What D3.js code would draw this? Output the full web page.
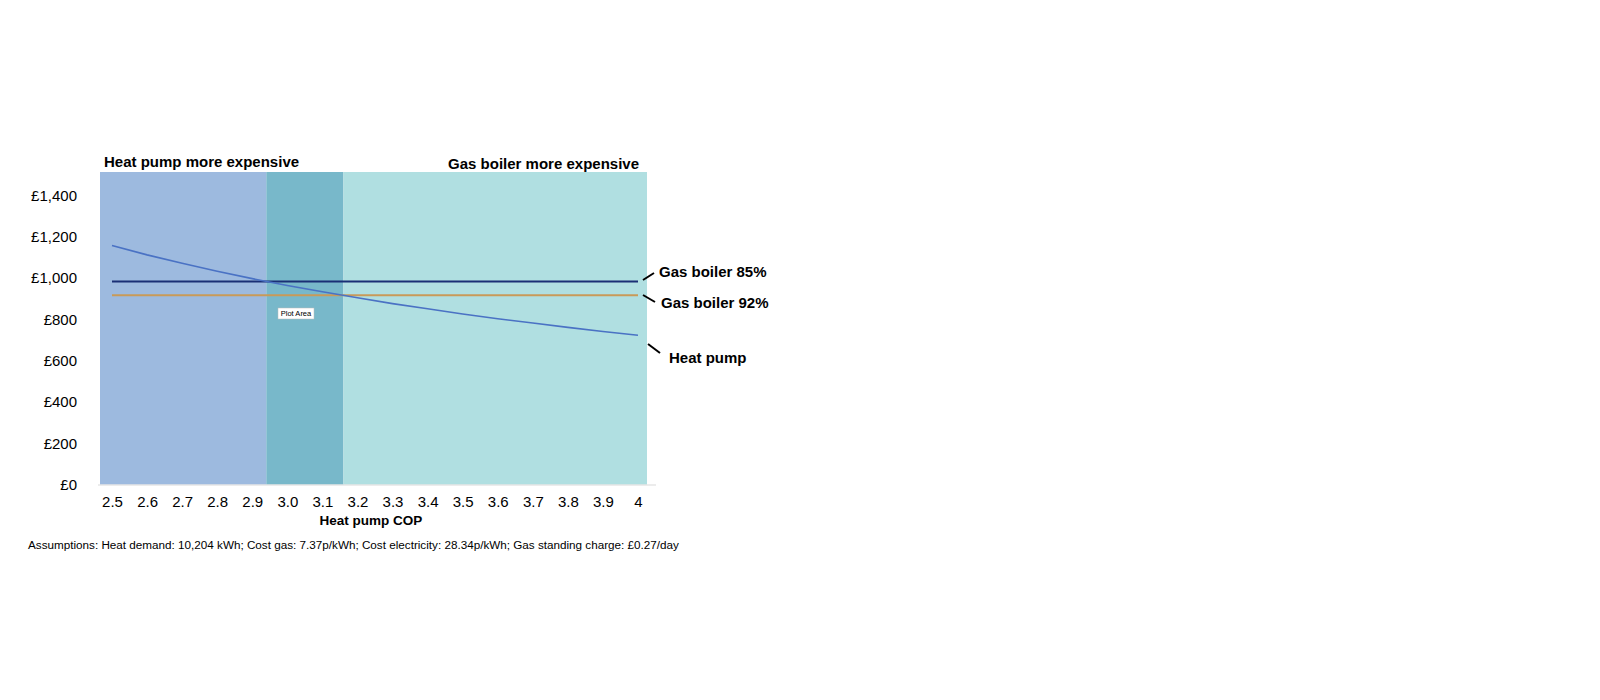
<!DOCTYPE html>
<html>
<head>
    <title>Heat pump vs gas boiler</title>
    <script src="https://d3js.org/d3.v7.min.js"></script>
    <style type="text/css">
        body { margin: 0; background: #fff; }
        text { font-family: "Liberation Sans", Arial, sans-serif; fill: #000; }
        .tick text { font-size: 15px; }
        .bold { font-weight: bold; }
    </style>
</head>
<body>
<script>
    // heat pump COP categories
    var cop = [2.5, 2.6, 2.7, 2.8, 2.9, 3.0, 3.1, 3.2, 3.3, 3.4, 3.5, 3.6, 3.7, 3.8, 3.9, 4.0];
    var copLabels = ["2.5", "2.6", "2.7", "2.8", "2.9", "3.0", "3.1", "3.2", "3.3", "3.4", "3.5", "3.6", "3.7", "3.8", "3.9", "4"];
    // annual cost, £
    var heatPump = [1157, 1112, 1071, 1033, 997, 964, 933, 904, 876, 851, 826, 803, 782, 761, 741, 723];
    var gas85 = [983, 983, 983, 983, 983, 983, 983, 983, 983, 983, 983, 983, 983, 983, 983, 983];
    var gas92 = [916, 916, 916, 916, 916, 916, 916, 916, 916, 916, 916, 916, 916, 916, 916, 916];
    // COP where heat pump crosses each boiler line
    var crossovers = [2.94, 3.16];
    var yTicks = [0, 200, 400, 600, 800, 1000, 1200, 1400];

    var w = 1600, h = 700;
    var plotLeft = 100, plotRight = 647, plotTop = 172, plotBottom = 484.5;

    var svg = d3.select("body").append("svg")
        .attr("width", w)
        .attr("height", h);

    var x = d3.scaleLinear().domain([2.5, 4]).range([112, 638]);
    var y = d3.scaleLinear().domain([0, 1400]).range([plotBottom, 195.4]);

    // shaded regions
    var regions = [
        {x0: plotLeft, x1: x(crossovers[0]), c: "#9dbadf"},
        {x0: x(crossovers[0]), x1: x(crossovers[1]), c: "#78b8ca"},
        {x0: x(crossovers[1]), x1: plotRight, c: "#b0dfe1"}
    ];
    svg.selectAll("rect.region")
        .data(regions)
        .enter()
        .append("rect")
        .attr("class", "region")
        .attr("x", function(d){ return d.x0; })
        .attr("y", plotTop)
        .attr("width", function(d){ return d.x1 - d.x0; })
        .attr("height", plotBottom - plotTop)
        .attr("fill", function(d){ return d.c; });

    // baseline
    svg.append("line")
        .attr("x1", plotLeft - 2).attr("x2", plotRight + 9)
        .attr("y1", plotBottom + 0.5).attr("y2", plotBottom + 0.5)
        .attr("stroke", "#d9d9d9");

    // y axis (labels only)
    var yAxis = d3.axisLeft(y)
        .tickValues(yTicks)
        .tickSize(0)
        .tickPadding(0)
        .tickFormat(function(d){ return "£" + d3.format(",")(d); });
    svg.append("g")
        .attr("transform", "translate(77,0)")
        .call(yAxis)
        .call(function(g){ g.select(".domain").remove(); });

    // x axis (labels only)
    var xAxis = d3.axisBottom(x)
        .tickValues(cop)
        .tickSize(0)
        .tickPadding(12)
        .tickFormat(function(d, i){ return copLabels[i]; });
    svg.append("g")
        .attr("transform", "translate(0," + plotBottom + ")")
        .call(xAxis)
        .call(function(g){ g.select(".domain").remove(); });

    // lines
    var line = d3.line()
        .x(function(d, i){ return x(cop[i]); })
        .y(function(d){ return y(d); });
    var series = [
        {v: gas85, c: "#1a2f75", wd: 2},
        {v: gas92, c: "#c99a58", wd: 2},
        {v: heatPump, c: "#4a72c4", wd: 1.6}
    ];
    svg.selectAll("path.series")
        .data(series)
        .enter()
        .append("path")
        .attr("class", "series")
        .attr("d", function(d){ return line(d.v); })
        .attr("fill", "none")
        .attr("stroke", function(d){ return d.c; })
        .attr("stroke-width", function(d){ return d.wd; });

    // series labels with leader lines
    var labels = [
        {t: "Gas boiler 85%", lx: 659, ly: 277, x1: 643, y1: 280, x2: 654, y2: 273},
        {t: "Gas boiler 92%", lx: 661, ly: 308, x1: 643, y1: 295, x2: 655, y2: 302},
        {t: "Heat pump", lx: 669, ly: 363, x1: 648, y1: 344, x2: 660, y2: 353}
    ];
    labels.forEach(function(d){
        svg.append("line")
            .attr("x1", d.x1).attr("y1", d.y1)
            .attr("x2", d.x2).attr("y2", d.y2)
            .attr("stroke", "#000").attr("stroke-width", 2);
        svg.append("text")
            .attr("class", "bold")
            .attr("x", d.lx).attr("y", d.ly)
            .attr("font-size", "15px")
            .text(d.t);
    });

    // region headings
    svg.append("text").attr("class", "bold")
        .attr("x", 104).attr("y", 167)
        .attr("font-size", "15px")
        .text("Heat pump more expensive");
    svg.append("text").attr("class", "bold")
        .attr("x", 639).attr("y", 169)
        .attr("text-anchor", "end")
        .attr("font-size", "15px")
        .text("Gas boiler more expensive");

    // "Plot Area" tooltip
    var tip = svg.append("g").attr("transform", "translate(278,308)");
    tip.append("rect")
        .attr("width", 36).attr("height", 11)
        .attr("fill", "#fff")
        .attr("stroke", "#bbb").attr("stroke-width", 0.5);
    tip.append("text")
        .attr("x", 18).attr("y", 8.3)
        .attr("text-anchor", "middle")
        .attr("font-size", "7.5px")
        .text("Plot Area");

    // axis title
    svg.append("text").attr("class", "bold")
        .attr("x", 371).attr("y", 525)
        .attr("text-anchor", "middle")
        .attr("font-size", "13.5px")
        .text("Heat pump COP");

    // footnote
    svg.append("text")
        .attr("x", 28).attr("y", 549)
        .attr("font-size", "11.7px")
        .text("Assumptions: Heat demand: 10,204 kWh; Cost gas: 7.37p/kWh; Cost electricity: 28.34p/kWh; Gas standing charge: £0.27/day");
</script>
</body>
</html>
